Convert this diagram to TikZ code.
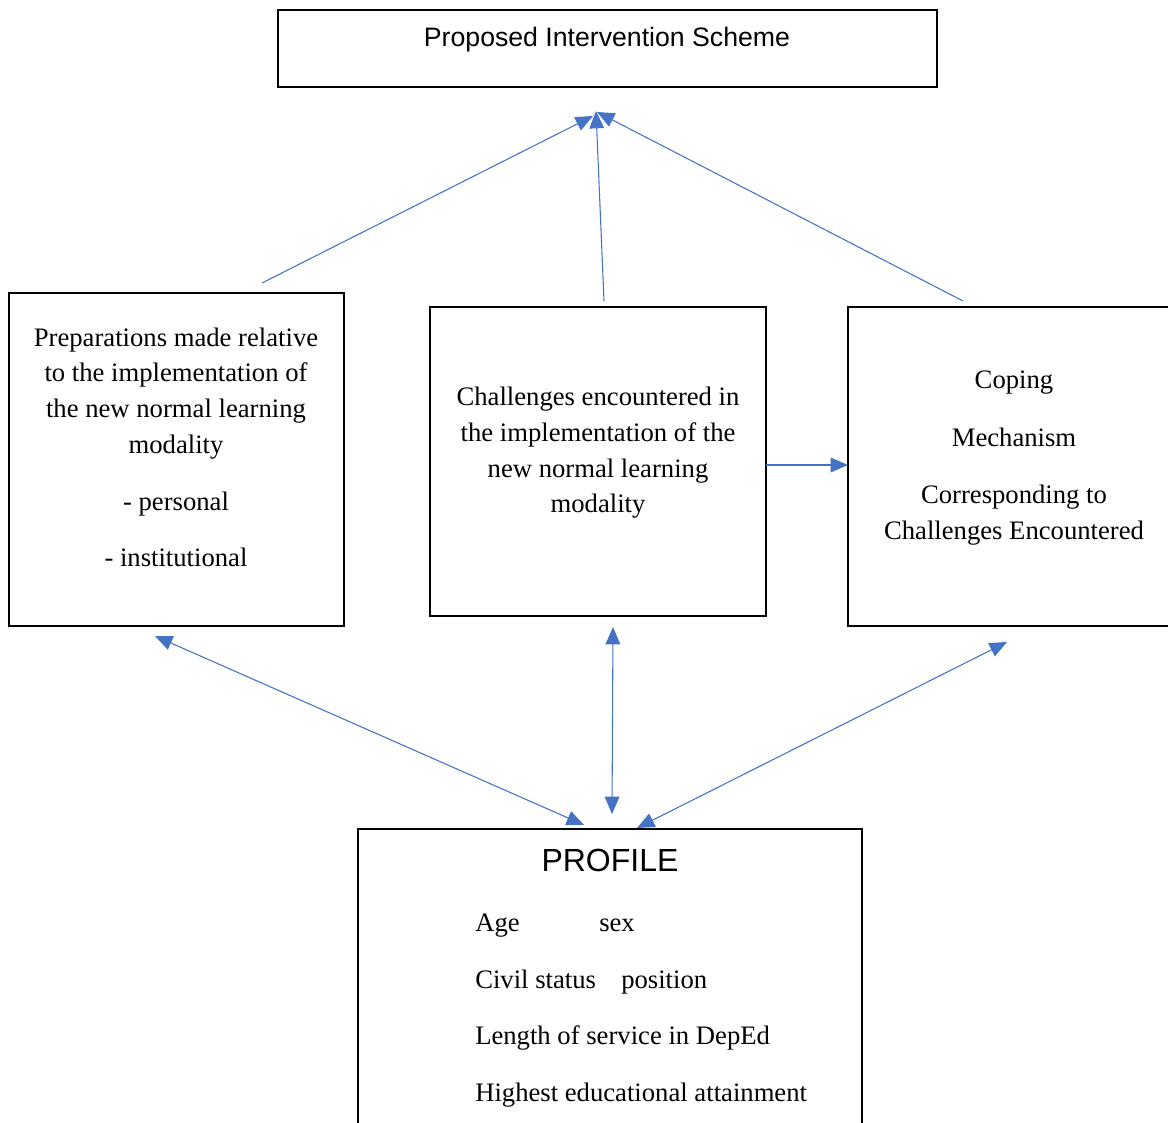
\documentclass[tikz,border=0pt]{standalone}
\usepackage{fontspec}
\setmainfont{Liberation Serif}
\newfontfamily\arialfont{Liberation Sans}
\usetikzlibrary{arrows.meta,fit}
\definecolor{arrowblue}{HTML}{4472C4}
\tikzset{
  box/.style={draw=black, line width=1.5pt, inner sep=0pt},
  serif/.style={font=\fontsize{20}{26.7}\selectfont, align=center, inner sep=0pt},
  listtxt/.style={font=\fontsize{20}{24}\selectfont, inner sep=0pt, anchor=base west},
  arr/.style={draw=arrowblue, line width=0.8pt, -{Triangle[length=13pt,width=11pt]}},
  dbl/.style={draw=arrowblue, line width=0.8pt, {Triangle[length=13pt,width=11pt]}-{Triangle[length=13pt,width=11pt]}}
}
\begin{document}
\begin{tikzpicture}[x=0.75pt,y=-0.75pt]
\useasboundingbox (0,0) rectangle (1168,1123);
\clip (0,0) rectangle (1168,1123);
% boxes
\node[box, fit={(278,10) (937,87)}] (top) {};
\node[box, fit={(9,293) (344,626)}] (left) {};
\node[box, fit={(430,307) (766,616)}] (mid) {};
\node[box, fit={(848,307) (1180,626)}] (right) {};
\node[box, fit={(358,829) (862,1140)}] (prof) {};
% texts
\node[font=\arialfont\fontsize{20}{24}\selectfont, inner sep=0pt] (toptxt) at (607,40) {Proposed Intervention Scheme};
\node[serif] (lefttxt) at (176,447.5) {Preparations made relative\\ to the implementation of\\ the new normal learning\\ modality\\[16pt] - personal\\[16pt] - institutional};
\node[serif] (midtxt) at (598,453) {Challenges encountered in\\ the implementation of the\\ new normal learning\\ modality};
\node[serif] (righttxt) at (1014,458) {Coping\\[16.5pt] Mechanism\\[16.5pt] Corresponding to\\ Challenges Encountered};
\node[font=\arialfont\fontsize{24}{28}\selectfont, inner sep=0pt] (proftitle) at (610,860) {PROFILE};
\node[listtxt] (age) at (475,931) {Age};
\node[listtxt] (sex) at (599,931) {sex};
\node[listtxt] (civil) at (475,988) {Civil status};
\node[listtxt] (pos) at (621,988) {position};
\node[listtxt] (length) at (475,1044) {Length of service in DepEd};
\node[listtxt] (high) at (475,1101) {Highest educational attainment};
% connector end points
\coordinate (a1s) at (262,283);
\coordinate (a1e) at (593,116);
\coordinate (a2s) at (604,301);
\coordinate (a2e) at (596,111);
\coordinate (a3s) at (963,301);
\coordinate (a3e) at (597,112);
\coordinate (h1s) at (766,465);
\coordinate (h1e) at (848,465);
\coordinate (d1a) at (155,636);
\coordinate (d1b) at (584,825);
\coordinate (d2a) at (613,627);
\coordinate (d2b) at (612,814);
\coordinate (d3a) at (1007,642);
\coordinate (d3b) at (637,828);
% connectors
\draw[arr] (a1s) -- (a1e);
\draw[arr] (a2s) -- (a2e);
\draw[arr] (a3s) -- (a3e);
\draw[arr] (h1s) -- (h1e);
\draw[dbl] (d1a) -- (d1b);
\draw[dbl] (d2a) -- (d2b);
\draw[dbl] (d3a) -- (d3b);
\end{tikzpicture}
\end{document}
